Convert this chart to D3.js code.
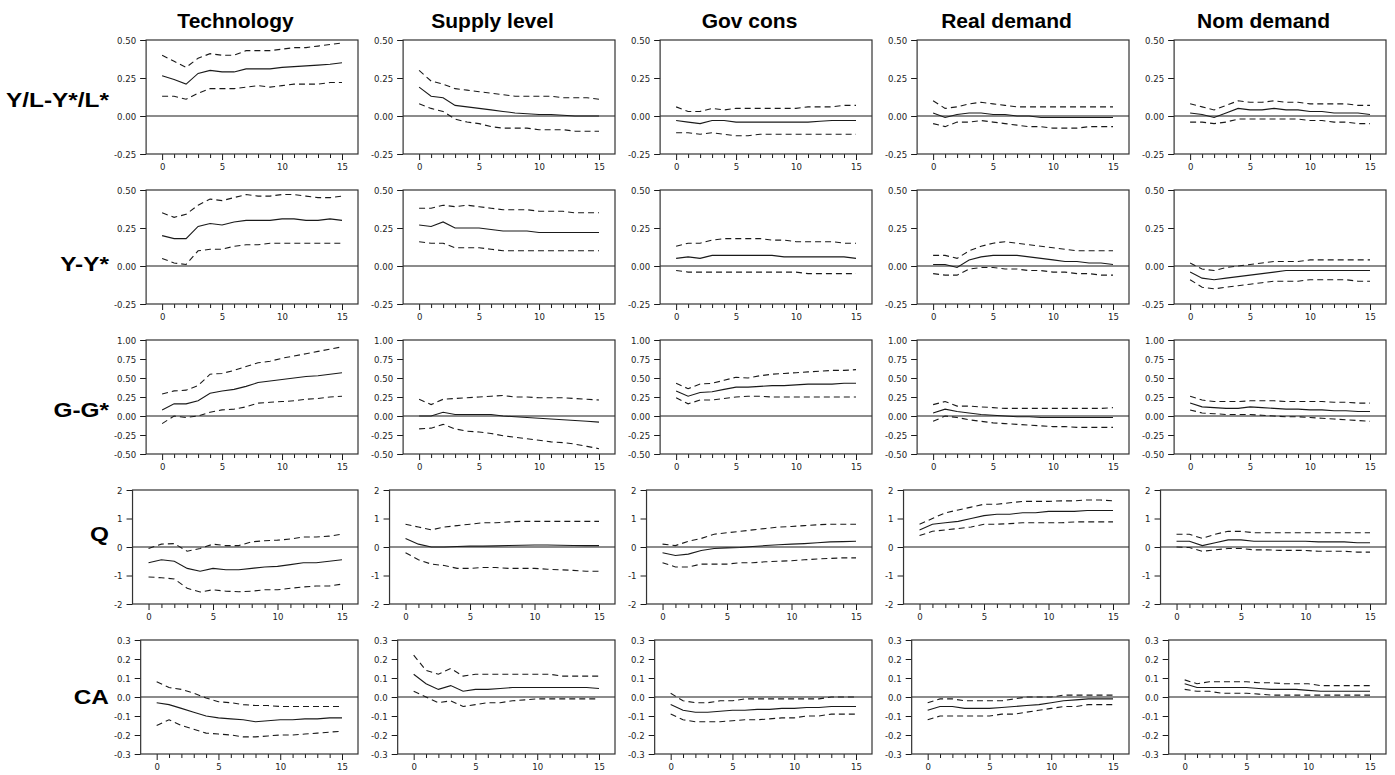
<!DOCTYPE html>
<html>
<head>
<meta charset="utf-8">
<script src="https://cdn.jsdelivr.net/npm/d3@7"></script>
<style>
body { margin: 0; background: #fff; }
</style>
</head>
<body>
<svg id="chart" width="1395" height="775"></svg>
<script>

var shocks = ["Technology", "Supply level", "Gov cons", "Real demand", "Nom demand"];
var variables = ["Y/L-Y*/L*", "Y-Y*", "G-G*", "Q", "CA"];
var steps = d3.range(0, 16);
var xLabels = [0, 5, 10, 15];

var yDomains = [[-0.25, 0.5], [-0.25, 0.5], [-0.5, 1], [-2, 2], [-0.3, 0.3]];
var yTicks = [
    [-0.25, 0, 0.25, 0.5],
    [-0.25, 0, 0.25, 0.5],
    [-0.5, -0.25, 0, 0.25, 0.5, 0.75, 1],
    [-2, -1, 0, 1, 2],
    [-0.3, -0.2, -0.1, 0, 0.1, 0.2, 0.3]
];
var yFormats = [".2f", ".2f", ".2f", "d", ".1f"];

// row 1: Y/L-Y*/L*  (one list per shock column)
var ylMid = [
    [0.265, 0.24, 0.21, 0.28, 0.30, 0.29, 0.29, 0.31, 0.31, 0.31, 0.32, 0.325, 0.33, 0.335, 0.34, 0.35],
    [0.19, 0.13, 0.12, 0.07, 0.06, 0.05, 0.04, 0.03, 0.02, 0.015, 0.01, 0.01, 0.005, 0.0, 0.0, 0.0],
    [-0.03, -0.04, -0.05, -0.03, -0.03, -0.04, -0.04, -0.04, -0.04, -0.04, -0.04, -0.04, -0.035, -0.03, -0.03, -0.03],
    [0.02, -0.01, 0.01, 0.02, 0.02, 0.01, 0.01, 0.0, 0.0, -0.01, -0.01, -0.01, -0.01, -0.01, -0.01, -0.01],
    [0.02, 0.01, -0.01, 0.02, 0.05, 0.04, 0.04, 0.05, 0.04, 0.04, 0.03, 0.03, 0.02, 0.02, 0.02, 0.01]
];
var ylHi = [
    [0.40, 0.36, 0.32, 0.38, 0.41, 0.40, 0.40, 0.43, 0.43, 0.43, 0.44, 0.45, 0.45, 0.46, 0.47, 0.48],
    [0.30, 0.23, 0.21, 0.18, 0.17, 0.16, 0.15, 0.14, 0.13, 0.13, 0.13, 0.13, 0.12, 0.12, 0.12, 0.11],
    [0.06, 0.03, 0.03, 0.05, 0.04, 0.05, 0.05, 0.05, 0.05, 0.05, 0.05, 0.06, 0.06, 0.06, 0.07, 0.07],
    [0.10, 0.05, 0.06, 0.08, 0.09, 0.08, 0.07, 0.06, 0.06, 0.06, 0.06, 0.06, 0.06, 0.06, 0.06, 0.06],
    [0.08, 0.06, 0.04, 0.07, 0.10, 0.09, 0.09, 0.10, 0.09, 0.09, 0.08, 0.08, 0.08, 0.08, 0.07, 0.07]
];
var ylLo = [
    [0.13, 0.13, 0.11, 0.15, 0.18, 0.18, 0.18, 0.19, 0.20, 0.19, 0.20, 0.21, 0.21, 0.21, 0.22, 0.22],
    [0.08, 0.05, 0.03, -0.02, -0.04, -0.05, -0.07, -0.08, -0.08, -0.08, -0.09, -0.09, -0.09, -0.10, -0.10, -0.10],
    [-0.11, -0.11, -0.12, -0.11, -0.12, -0.13, -0.13, -0.12, -0.12, -0.12, -0.12, -0.12, -0.12, -0.12, -0.12, -0.12],
    [-0.05, -0.07, -0.04, -0.04, -0.03, -0.04, -0.05, -0.06, -0.07, -0.07, -0.08, -0.08, -0.08, -0.07, -0.07, -0.07],
    [-0.04, -0.04, -0.05, -0.04, -0.02, -0.02, -0.02, -0.02, -0.02, -0.02, -0.03, -0.03, -0.04, -0.04, -0.05, -0.05]
];

// row 2: Y-Y*
var yyMid = [
    [0.20, 0.18, 0.18, 0.26, 0.28, 0.27, 0.29, 0.30, 0.30, 0.30, 0.31, 0.31, 0.30, 0.30, 0.31, 0.30],
    [0.27, 0.26, 0.29, 0.25, 0.25, 0.25, 0.24, 0.23, 0.23, 0.23, 0.22, 0.22, 0.22, 0.22, 0.22, 0.22],
    [0.05, 0.06, 0.05, 0.07, 0.07, 0.07, 0.07, 0.07, 0.07, 0.06, 0.06, 0.06, 0.06, 0.06, 0.06, 0.05],
    [0.01, 0.01, -0.01, 0.04, 0.06, 0.07, 0.07, 0.07, 0.06, 0.05, 0.04, 0.03, 0.03, 0.02, 0.02, 0.01],
    [-0.04, -0.08, -0.09, -0.08, -0.07, -0.06, -0.05, -0.04, -0.03, -0.03, -0.03, -0.03, -0.03, -0.03, -0.03, -0.03]
];
var yyHi = [
    [0.35, 0.32, 0.34, 0.40, 0.44, 0.43, 0.45, 0.47, 0.46, 0.46, 0.47, 0.47, 0.46, 0.45, 0.45, 0.46],
    [0.38, 0.38, 0.40, 0.39, 0.40, 0.39, 0.38, 0.37, 0.37, 0.37, 0.36, 0.36, 0.36, 0.35, 0.35, 0.35],
    [0.13, 0.15, 0.15, 0.17, 0.18, 0.18, 0.18, 0.18, 0.17, 0.17, 0.16, 0.16, 0.16, 0.16, 0.15, 0.15],
    [0.07, 0.07, 0.05, 0.10, 0.13, 0.15, 0.16, 0.15, 0.14, 0.13, 0.12, 0.11, 0.10, 0.10, 0.10, 0.10],
    [0.02, -0.02, -0.03, -0.01, 0.0, 0.01, 0.02, 0.03, 0.03, 0.03, 0.04, 0.04, 0.04, 0.04, 0.04, 0.04]
];
var yyLo = [
    [0.05, 0.02, 0.01, 0.10, 0.11, 0.11, 0.13, 0.14, 0.14, 0.15, 0.15, 0.15, 0.15, 0.15, 0.15, 0.15],
    [0.16, 0.15, 0.15, 0.12, 0.12, 0.12, 0.11, 0.10, 0.10, 0.10, 0.10, 0.10, 0.10, 0.10, 0.10, 0.10],
    [-0.03, -0.04, -0.04, -0.04, -0.04, -0.04, -0.04, -0.04, -0.04, -0.04, -0.04, -0.05, -0.05, -0.05, -0.05, -0.05],
    [-0.05, -0.06, -0.06, -0.02, -0.01, -0.01, -0.02, -0.02, -0.03, -0.03, -0.04, -0.04, -0.05, -0.05, -0.06, -0.06],
    [-0.09, -0.14, -0.15, -0.14, -0.13, -0.12, -0.11, -0.10, -0.10, -0.10, -0.09, -0.09, -0.09, -0.09, -0.10, -0.10]
];

// row 3: G-G*
var ggMid = [
    [0.08, 0.16, 0.16, 0.20, 0.30, 0.33, 0.35, 0.39, 0.44, 0.46, 0.48, 0.50, 0.52, 0.53, 0.55, 0.57],
    [0.0, 0.0, 0.05, 0.02, 0.02, 0.02, 0.02, 0.0, -0.01, -0.02, -0.03, -0.04, -0.05, -0.06, -0.07, -0.08],
    [0.33, 0.26, 0.31, 0.32, 0.35, 0.38, 0.38, 0.39, 0.40, 0.40, 0.41, 0.42, 0.42, 0.42, 0.43, 0.43],
    [0.04, 0.09, 0.06, 0.04, 0.02, 0.01, 0.0, -0.01, -0.01, -0.02, -0.02, -0.02, -0.02, -0.02, -0.02, -0.02],
    [0.17, 0.12, 0.11, 0.10, 0.10, 0.12, 0.11, 0.10, 0.09, 0.09, 0.08, 0.08, 0.07, 0.07, 0.06, 0.06]
];
var ggHi = [
    [0.29, 0.33, 0.34, 0.40, 0.55, 0.56, 0.60, 0.65, 0.70, 0.72, 0.76, 0.79, 0.82, 0.85, 0.88, 0.91],
    [0.22, 0.15, 0.22, 0.23, 0.24, 0.25, 0.26, 0.27, 0.25, 0.25, 0.24, 0.24, 0.24, 0.23, 0.22, 0.21],
    [0.43, 0.36, 0.42, 0.43, 0.47, 0.51, 0.50, 0.53, 0.55, 0.56, 0.57, 0.58, 0.59, 0.60, 0.60, 0.61],
    [0.15, 0.19, 0.13, 0.13, 0.12, 0.11, 0.10, 0.10, 0.10, 0.10, 0.10, 0.10, 0.10, 0.10, 0.10, 0.11],
    [0.26, 0.21, 0.19, 0.19, 0.19, 0.20, 0.20, 0.20, 0.19, 0.19, 0.19, 0.19, 0.18, 0.18, 0.17, 0.17]
];
var ggLo = [
    [-0.10, 0.0, -0.02, 0.0, 0.05, 0.08, 0.09, 0.12, 0.17, 0.18, 0.19, 0.20, 0.22, 0.23, 0.25, 0.26],
    [-0.17, -0.16, -0.11, -0.17, -0.20, -0.21, -0.23, -0.26, -0.28, -0.30, -0.32, -0.34, -0.35, -0.37, -0.40, -0.43],
    [0.24, 0.16, 0.21, 0.21, 0.23, 0.25, 0.26, 0.26, 0.25, 0.25, 0.25, 0.25, 0.25, 0.25, 0.25, 0.25],
    [-0.07, 0.0, -0.02, -0.05, -0.07, -0.09, -0.10, -0.11, -0.12, -0.13, -0.14, -0.14, -0.15, -0.15, -0.15, -0.15],
    [0.08, 0.04, 0.03, 0.02, 0.02, 0.02, 0.01, 0.0, -0.01, -0.01, -0.02, -0.03, -0.04, -0.05, -0.06, -0.07]
];

// row 4: Q
var qMid = [
    [-0.55, -0.45, -0.50, -0.75, -0.85, -0.75, -0.80, -0.80, -0.75, -0.70, -0.68, -0.62, -0.55, -0.55, -0.50, -0.45],
    [0.30, 0.10, 0.0, 0.0, 0.02, 0.03, 0.03, 0.04, 0.05, 0.06, 0.07, 0.07, 0.06, 0.05, 0.05, 0.05],
    [-0.20, -0.30, -0.25, -0.12, -0.05, -0.03, -0.02, 0.02, 0.05, 0.08, 0.10, 0.12, 0.15, 0.18, 0.19, 0.20],
    [0.60, 0.80, 0.85, 0.90, 1.00, 1.10, 1.15, 1.15, 1.20, 1.20, 1.25, 1.25, 1.25, 1.28, 1.28, 1.28],
    [0.20, 0.20, 0.05, 0.15, 0.25, 0.25, 0.20, 0.20, 0.20, 0.20, 0.20, 0.18, 0.18, 0.18, 0.15, 0.15]
];
var qHi = [
    [-0.05, 0.10, 0.12, -0.15, -0.05, 0.10, 0.05, 0.05, 0.18, 0.22, 0.24, 0.28, 0.35, 0.35, 0.38, 0.45],
    [0.80, 0.70, 0.60, 0.70, 0.75, 0.80, 0.85, 0.85, 0.88, 0.90, 0.90, 0.90, 0.90, 0.90, 0.90, 0.90],
    [0.10, 0.05, 0.20, 0.30, 0.45, 0.50, 0.55, 0.60, 0.65, 0.70, 0.72, 0.75, 0.78, 0.80, 0.80, 0.80],
    [0.80, 1.00, 1.20, 1.30, 1.40, 1.50, 1.50, 1.55, 1.60, 1.60, 1.60, 1.62, 1.62, 1.65, 1.65, 1.62],
    [0.45, 0.45, 0.30, 0.45, 0.55, 0.55, 0.50, 0.50, 0.50, 0.50, 0.50, 0.50, 0.50, 0.50, 0.50, 0.50]
];
var qLo = [
    [-1.05, -1.08, -1.12, -1.45, -1.58, -1.50, -1.55, -1.57, -1.55, -1.50, -1.50, -1.45, -1.40, -1.37, -1.37, -1.30],
    [-0.20, -0.45, -0.60, -0.65, -0.75, -0.75, -0.72, -0.72, -0.75, -0.75, -0.75, -0.78, -0.80, -0.82, -0.85, -0.85],
    [-0.55, -0.70, -0.70, -0.60, -0.60, -0.60, -0.55, -0.55, -0.52, -0.50, -0.48, -0.45, -0.42, -0.40, -0.38, -0.38],
    [0.40, 0.55, 0.60, 0.65, 0.70, 0.80, 0.80, 0.82, 0.85, 0.85, 0.85, 0.85, 0.88, 0.88, 0.88, 0.88],
    [0.0, -0.02, -0.15, -0.10, -0.05, -0.05, -0.10, -0.10, -0.12, -0.12, -0.12, -0.15, -0.15, -0.15, -0.18, -0.18]
];

// row 5: CA
var caMid = [
    [-0.03, -0.04, -0.06, -0.08, -0.10, -0.11, -0.115, -0.12, -0.13, -0.125, -0.12, -0.12, -0.115, -0.115, -0.11, -0.11],
    [0.12, 0.07, 0.04, 0.06, 0.03, 0.04, 0.04, 0.045, 0.05, 0.05, 0.05, 0.05, 0.05, 0.05, 0.05, 0.045],
    [-0.04, -0.07, -0.08, -0.08, -0.075, -0.07, -0.07, -0.065, -0.065, -0.06, -0.06, -0.055, -0.055, -0.05, -0.05, -0.05],
    [-0.07, -0.05, -0.05, -0.06, -0.06, -0.06, -0.055, -0.05, -0.045, -0.04, -0.03, -0.02, -0.015, -0.01, -0.01, -0.01],
    [0.07, 0.05, 0.05, 0.05, 0.05, 0.05, 0.045, 0.04, 0.04, 0.04, 0.035, 0.03, 0.03, 0.03, 0.03, 0.03]
];
var caHi = [
    [0.08, 0.05, 0.04, 0.02, -0.005, -0.025, -0.03, -0.04, -0.045, -0.045, -0.05, -0.05, -0.05, -0.05, -0.05, -0.05],
    [0.22, 0.14, 0.12, 0.15, 0.11, 0.12, 0.12, 0.12, 0.12, 0.12, 0.12, 0.12, 0.11, 0.11, 0.11, 0.11],
    [0.02, -0.02, -0.03, -0.03, -0.02, -0.02, -0.01, -0.01, -0.01, -0.01, -0.01, -0.01, -0.01, 0.0, 0.0, 0.0],
    [-0.03, -0.01, -0.01, -0.02, -0.02, -0.02, -0.02, -0.01, 0.0, 0.0, 0.0, 0.01, 0.01, 0.01, 0.01, 0.01],
    [0.09, 0.07, 0.08, 0.08, 0.08, 0.08, 0.075, 0.075, 0.07, 0.07, 0.07, 0.06, 0.06, 0.06, 0.06, 0.06]
];
var caLo = [
    [-0.15, -0.12, -0.15, -0.17, -0.19, -0.195, -0.20, -0.21, -0.21, -0.205, -0.20, -0.20, -0.195, -0.19, -0.185, -0.18],
    [0.03, 0.0, -0.03, -0.02, -0.05, -0.04, -0.03, -0.03, -0.02, -0.015, -0.01, -0.01, -0.01, -0.01, -0.01, -0.01],
    [-0.09, -0.12, -0.13, -0.13, -0.13, -0.125, -0.12, -0.12, -0.115, -0.11, -0.11, -0.10, -0.10, -0.09, -0.09, -0.09],
    [-0.12, -0.10, -0.10, -0.10, -0.10, -0.10, -0.09, -0.09, -0.08, -0.07, -0.06, -0.05, -0.05, -0.04, -0.04, -0.04],
    [0.04, 0.03, 0.03, 0.02, 0.02, 0.02, 0.015, 0.01, 0.01, 0.01, 0.01, 0.01, 0.01, 0.01, 0.01, 0.01]
];

var mids = [ylMid, yyMid, ggMid, qMid, caMid];
var his = [ylHi, yyHi, ggHi, qHi, caHi];
var los = [ylLo, yyLo, ggLo, qLo, caLo];

// layout
var colPitch = 257;
var rowPitch = 150;
var outerLeft0 = 113;
var frameRight0 = 358;
var frameTop0 = 40;
var frameH = 114;
var xPad = 16;
var labelCenters = [100, 264, 410, 534, 697];

var tickFont = "'Liberation Sans Narrow', 'Arial Narrow', 'DejaVu Sans Condensed', sans-serif";
var boldFont = "'Liberation Sans', Arial, Helvetica, sans-serif";
var ink = "#1a1a1a";

var loc = d3.formatLocale({ decimal: ".", thousands: ",", grouping: [3], currency: ["", ""], minus: "-" });

function drawChart() {
    var svg = d3.select("#chart");

    // measure tick label widths so the frame sits right of the labels
    function labelWidth(r) {
        var f = loc.format(yFormats[r]);
        var t = svg.append("text")
            .style("font-family", tickFont)
            .style("font-size", "9.5px");
        var w = 0;
        yTicks[r].forEach(function (v) {
            t.text(f(v));
            w = Math.max(w, t.node().getComputedTextLength());
        });
        t.remove();
        return w;
    }

    // column titles
    shocks.forEach(function (s, c) {
        svg.append("text")
            .attr("x", (outerLeft0 + frameRight0) / 2 + c * colPitch)
            .attr("y", 28)
            .attr("text-anchor", "middle")
            .style("font-family", boldFont)
            .style("font-weight", "bold")
            .style("font-size", "21px")
            .text(s);
    });

    // row labels
    variables.forEach(function (v, r) {
        svg.append("text")
            .attr("transform", "translate(109," + (labelCenters[r] + 7) + ") scale(1.22,1)")
            .attr("text-anchor", "end")
            .style("font-family", boldFont)
            .style("font-weight", "bold")
            .style("font-size", "20px")
            .text(v);
    });

    for (var r = 0; r < 5; r++) {
        var lw = labelWidth(r);
        var fTop = frameTop0 + r * rowPitch;
        var fBottom = fTop + frameH;
        var fmt = loc.format(yFormats[r]);

        for (var c = 0; c < 5; c++) {
            var fLeft = outerLeft0 + c * colPitch + lw + 11;
            var fRight = frameRight0 + c * colPitch;

            var x = d3.scaleLinear()
                .domain([0, 15])
                .range([fLeft + xPad, fRight - xPad]);

            var y = d3.scaleLinear()
                .domain(yDomains[r])
                .range([fBottom, fTop]);

            var g = svg.append("g");

            // y axis
            g.append("g")
                .attr("transform", `translate(${fLeft},0)`)
                .call(d3.axisLeft(y).tickValues(yTicks[r]).tickFormat(fmt).tickSize(6).tickPadding(4))
                .call(a => a.select(".domain").remove())
                .call(a => a.selectAll("line").attr("stroke", ink))
                .call(a => a.selectAll("text")
                    .style("font-family", tickFont)
                    .style("font-size", "9.5px")
                    .attr("fill", "#222"));

            // x axis
            g.append("g")
                .attr("transform", `translate(0,${fBottom})`)
                .call(d3.axisBottom(x).tickValues(steps)
                    .tickFormat(d => xLabels.indexOf(d) >= 0 ? d : "")
                    .tickSize(5).tickPadding(4))
                .call(a => a.select(".domain").remove())
                .call(a => a.selectAll("line").attr("stroke", ink)
                    .attr("y2", d => xLabels.indexOf(d) >= 0 ? 6 : 4))
                .call(a => a.selectAll("text")
                    .style("font-family", tickFont)
                    .style("font-size", "9.5px")
                    .attr("fill", "#222"));

            // zero line
            g.append("line")
                .attr("x1", fLeft).attr("x2", fRight)
                .attr("y1", y(0)).attr("y2", y(0))
                .attr("stroke", ink)
                .attr("stroke-width", 1.1);

            var line = d3.line()
                .x(function (d, i) { return x(steps[i]) })
                .y(function (d) { return y(d) });

            g.append("path")
                .datum(his[r][c])
                .attr("fill", "none")
                .attr("stroke", ink)
                .attr("stroke-width", 1.1)
                .attr("stroke-dasharray", "6,4")
                .attr("d", line);

            g.append("path")
                .datum(los[r][c])
                .attr("fill", "none")
                .attr("stroke", ink)
                .attr("stroke-width", 1.1)
                .attr("stroke-dasharray", "6,4")
                .attr("d", line);

            g.append("path")
                .datum(mids[r][c])
                .attr("fill", "none")
                .attr("stroke", ink)
                .attr("stroke-width", 1.1)
                .attr("d", line);

            // frame
            g.append("rect")
                .attr("x", fLeft).attr("y", fTop)
                .attr("width", fRight - fLeft).attr("height", frameH)
                .attr("fill", "none")
                .attr("stroke", "#333")
                .attr("stroke-width", 1.2);
        }
    }
}

drawChart();
</script>
</body>
</html>
